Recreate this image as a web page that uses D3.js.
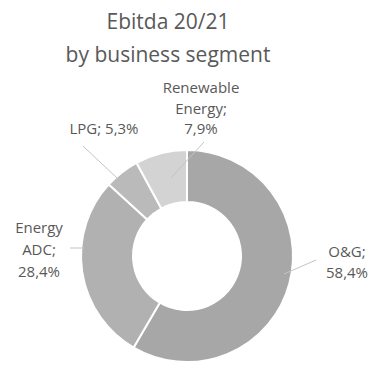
<!DOCTYPE html>
<html>
<head>
<meta charset="utf-8">
<script src="https://cdn.jsdelivr.net/npm/d3@7"></script>
<style>
  html, body { margin: 0; padding: 0; background: #ffffff; }
  svg { display: block; }
</style>
</head>
<body>
<svg id="chart" width="374" height="370"></svg>
<script>
// Ebitda 20/21 split by business segment
const segments = ["O&G", "Energy ADC", "LPG", "Renewable Energy"];
const shares = [58.4, 28.4, 5.3, 7.9];
const titleLines = ["Ebitda 20/21", "by business segment"];

const W = 374, H = 370;
const cx = 187, cy = 256;
const outerR = 106, innerR = 54;

const fills = ["#a7a7a7", "#b1b1b1", "#bababa", "#d3d3d3"];
const textColor = "#595959";
const font = "'Open Sans', Lato, sans-serif";

const comma = d3.formatLocale({ decimal: ",", thousands: ".", grouping: [3], currency: ["", "€"] });
const pct = v => comma.format(".1f")(v) + "%";

// label placement, relative to the donut centre
const labelLayout = {
  "O&G":              { lines: d => ["O&G;", pct(d)],                 dx: 160, dy: 1,    lh: 21,   leader: [[129, 4], [97, 18]] },
  "Energy ADC":       { lines: d => ["Energy", "ADC;", pct(d)],       dx: -148, dy: -23, lh: 22,   leader: [[-117, -8], [-103, -8]] },
  "LPG":              { lines: d => ["LPG; " + pct(d)],               dx: -83, dy: -122, lh: 20,   leader: [[-104, -110], [-69, -77]] },
  "Renewable Energy": { lines: d => ["Renewable", "Energy;", pct(d)], dx: 14, dy: -163,  lh: 20.5, leader: [[17, -114], [-16, -78]] }
};

const svg = d3.select("#chart");

// title
svg.append("text")
  .attr("x", 168).attr("y", 29)
  .attr("text-anchor", "middle")
  .attr("font-family", font)
  .attr("font-size", 21)
  .attr("fill", textColor)
  .selectAll("tspan")
  .data(titleLines)
  .join("tspan")
  .attr("x", 168)
  .attr("dy", (d, i) => i === 0 ? 0 : 33)
  .text(d => d);

const data = segments.map((s, i) => ({ name: s, value: shares[i], fill: fills[i] }));

const pie = d3.pie().sort(null).value(d => d.value).startAngle(0).endAngle(2 * Math.PI);
const arc = d3.arc().innerRadius(innerR).outerRadius(outerR);

const g = svg.append("g").attr("transform", `translate(${cx},${cy})`);

g.selectAll("path.slice")
  .data(pie(data))
  .join("path")
  .attr("class", "slice")
  .attr("d", arc)
  .attr("fill", d => d.data.fill)
  .attr("stroke", "#ffffff")
  .attr("stroke-width", 2);

// leader lines
g.selectAll("line.leader")
  .data(data)
  .join("line")
  .attr("class", "leader")
  .attr("x1", d => labelLayout[d.name].leader[0][0])
  .attr("y1", d => labelLayout[d.name].leader[0][1])
  .attr("x2", d => labelLayout[d.name].leader[1][0])
  .attr("y2", d => labelLayout[d.name].leader[1][1])
  .attr("stroke", "#c4c4c4")
  .attr("stroke-width", 1);

// data labels
const labels = g.selectAll("text.label")
  .data(data)
  .join("text")
  .attr("class", "label")
  .attr("text-anchor", "middle")
  .attr("font-family", font)
  .attr("font-size", 15)
  .attr("fill", textColor);

labels.each(function (d) {
  const L = labelLayout[d.name];
  d3.select(this).selectAll("tspan")
    .data(L.lines(d.value))
    .join("tspan")
    .attr("x", L.dx)
    .attr("y", (t, i) => L.dy + i * L.lh)
    .text(t => t);
});
</script>
</body>
</html>
